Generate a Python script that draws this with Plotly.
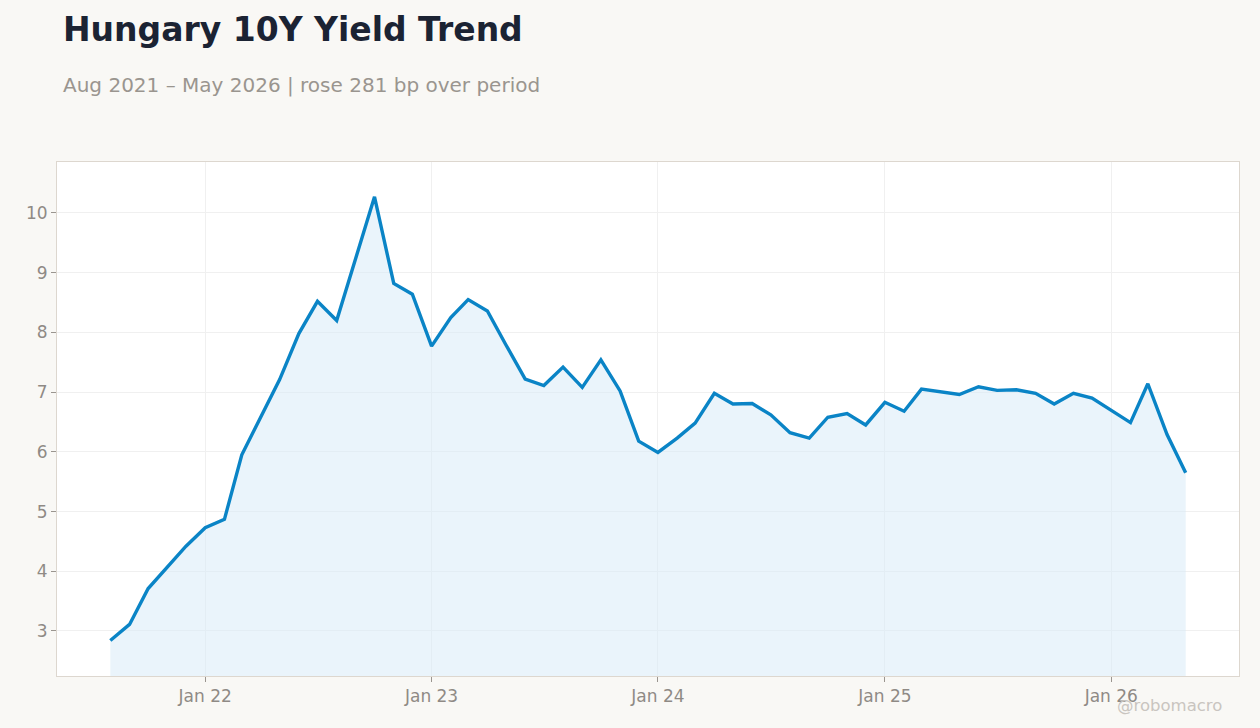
import plotly.graph_objects as go
import pandas as pd

dates = pd.date_range("2021-08-01", "2026-05-01", freq="MS")
yields = [
    2.84, 3.11, 3.71, 4.07, 4.42,
    4.73, 4.87, 5.95, 6.59, 7.21, 7.98, 8.52, 8.20, 9.24, 10.27, 8.82, 8.64,
    7.77, 8.25, 8.55, 8.36, 7.79, 7.22, 7.11, 7.42, 7.08, 7.54, 7.02, 6.18,
    5.99, 6.23, 6.48, 6.98, 6.80, 6.81, 6.62, 6.32, 6.23, 6.58, 6.64, 6.45,
    6.83, 6.68, 7.05, 7.00, 6.96, 7.09, 7.03, 7.04, 6.98, 6.80, 6.98, 6.90,
    6.69, 6.49, 7.14, 6.29, 5.65,
]

title = "Hungary 10Y Yield Trend"
subtitle = "Aug 2021 – May 2026 | rose 281 bp over period"
watermark = "@robomacro"

FONT = "DejaVu Sans"
BG = "#f9f8f5"

fig = go.Figure()
fig.add_trace(go.Scatter(
    x=dates, y=yields, mode="lines",
    line=dict(color="#0a84c6", width=3.4),
    fill="tozeroy", fillcolor="rgba(214,234,248,0.5)",
    hoverinfo="x+y", showlegend=False,
))

axis_common = dict(
    showgrid=True, gridcolor="#f0f0f0", gridwidth=1,
    ticks="outside", ticklen=5, tickcolor="#9a958f",
    showline=True, mirror=True, linecolor="#ddd7cf", linewidth=1,
    zeroline=False,
    tickfont=dict(size=17, color="#8f8a85"),
)

fig.update_layout(
    width=1260, height=728,
    paper_bgcolor=BG, plot_bgcolor="#ffffff",
    margin=dict(l=57, r=21, t=162, b=52),
    font=dict(family=FONT, color="#8f8a85", size=17),
    xaxis=dict(
        range=["2021-05-07", "2026-07-26"],
        tickformat="%b %y", dtick="M12", tick0="2022-01-01",
        **axis_common,
    ),
    yaxis=dict(
        range=[2.246, 10.854], dtick=1, tick0=0,
        **axis_common,
    ),
    annotations=[
        dict(text=f"<b>{title}</b>", xref="paper", yref="paper",
             x=(61 - 57) / 1182, y=1 + (162 - 29) / 514,
             xanchor="left", yanchor="middle", showarrow=False,
             font=dict(family=FONT, size=33, color="#1b2333")),
        dict(text=subtitle, xref="paper", yref="paper",
             x=(61 - 57) / 1182, y=1 + (162 - 85) / 514,
             xanchor="left", yanchor="middle", showarrow=False,
             font=dict(family=FONT, size=20, color="#9a958f")),
        dict(text=watermark, xref="paper", yref="paper",
             x=(1224 - 57) / 1182, y=(676 - 705) / 514,
             xanchor="right", yanchor="middle", showarrow=False,
             font=dict(family=FONT, size=16.5, color="#c9c5c0")),
    ],
)

fig.write_html(
    "out.html",
    config={"displayModeBar": False},
    post_script=f"document.body.style.margin='0';document.body.style.background='{BG}';",
)
